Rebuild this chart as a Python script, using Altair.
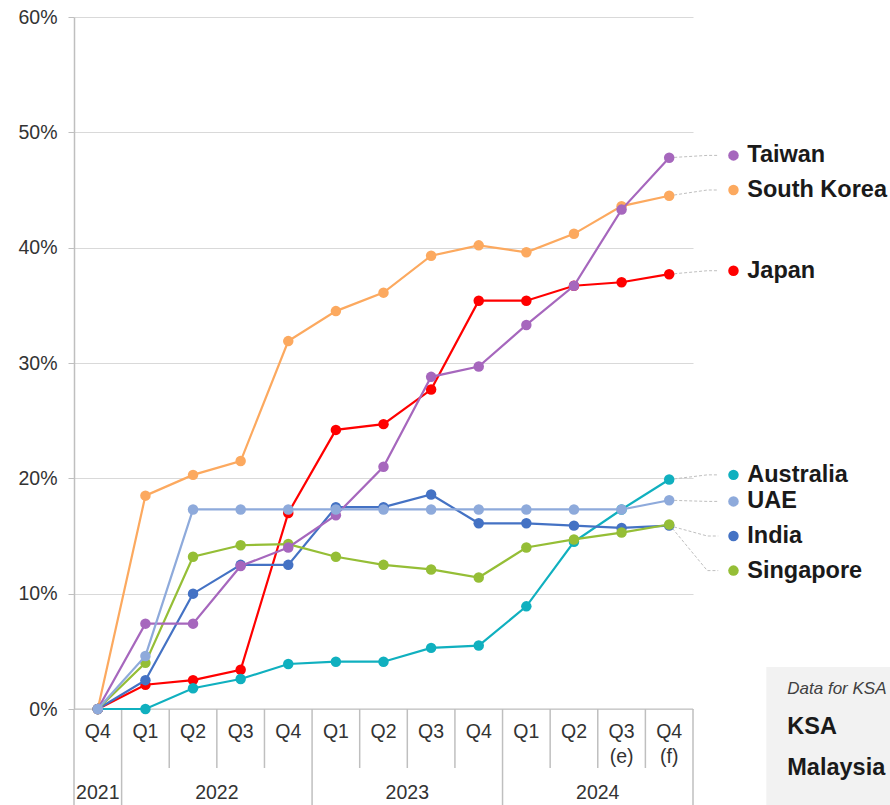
import altair as alt
import pandas as pd

# Quarterly series (percent)
quarter_idx = list(range(13))
quarters = ["Q4", "Q1", "Q2", "Q3", "Q4", "Q1", "Q2", "Q3", "Q4", "Q1", "Q2", "Q3", "Q4"]
quarter_notes = ["", "", "", "", "", "", "", "", "", "", "", "(e)", "(f)"]
years = ["2021", "2022", "2023", "2024"]
year_centers = [0, 2.5, 6.5, 10.5]

taiwan = [0, 7.4, 7.4, 12.4, 14.0, 16.8, 21.0, 28.8, 29.7, 33.3, 36.7, 43.3, 47.8]
south_korea = [0, 18.5, 20.3, 21.5, 31.9, 34.5, 36.1, 39.3, 40.2, 39.6, 41.2, 43.6, 44.5]
japan = [0, 2.1, 2.5, 3.4, 17.0, 24.2, 24.7, 27.7, 35.4, 35.4, 36.7, 37.0, 37.7]
australia = [0, 0, 1.8, 2.6, 3.9, 4.1, 4.1, 5.3, 5.5, 8.9, 14.5, 17.3, 19.9]
uae = [0, 4.6, 17.3, 17.3, 17.3, 17.3, 17.3, 17.3, 17.3, 17.3, 17.3, 17.3, 18.1]
india = [0, 2.5, 10.0, 12.5, 12.5, 17.5, 17.5, 18.6, 16.1, 16.1, 15.9, 15.7, 15.9]
singapore = [0, 4.0, 13.2, 14.2, 14.3, 13.2, 12.5, 12.1, 11.4, 14.0, 14.7, 15.3, 16.0]

# drawing order, bottom to top
series = {
    "South Korea": south_korea,
    "Japan": japan,
    "Australia": australia,
    "India": india,
    "Singapore": singapore,
    "Taiwan": taiwan,
    "UAE": uae,
}
colors = {
    "Taiwan": "#a667bd",
    "South Korea": "#fca95f",
    "Japan": "#ff0000",
    "Australia": "#10b0bf",
    "UAE": "#8eaadb",
    "India": "#4472c4",
    "Singapore": "#95be36",
}

# end labels (top to bottom) and their vertical positions in percent
label_names = ["Taiwan", "South Korea", "Japan", "Australia", "UAE", "India", "Singapore"]
label_pos = [48.0, 45.0, 38.0, 20.3, 18.0, 15.0, 12.0]

box_lines = ["Data for KSA", "KSA", "Malaysia"]

W, H = 619, 692
FONT = "Liberation Sans"
GRID = "#d9d9d9"
EDGE = "#bfbfbf"
INK = "#333333"

xs = alt.Scale(domain=[-0.5, 12.5], nice=False, zero=False)
ys = alt.Scale(domain=[0, 60], nice=False, zero=False)

layers = []

# horizontal axis line, carries the y axis with grid
axis_df = pd.DataFrame({"x0": [-0.5], "x1": [12.5], "v": [0]})
layers.append(
    alt.Chart(axis_df).mark_rule(color=EDGE, strokeWidth=1).encode(
        x=alt.X("x0:Q", scale=xs, axis=None),
        x2="x1:Q",
        y=alt.Y(
            "v:Q",
            scale=ys,
            title=None,
            axis=alt.Axis(
                values=[0, 10, 20, 30, 40, 50, 60],
                labelExpr="datum.value + '%'",
                grid=True,
                gridColor=GRID,
                gridWidth=1,
                domainColor=EDGE,
                domainWidth=1.5,
                tickColor=EDGE,
                tickSize=6,
                labelFont=FONT,
                labelFontSize=19.5,
                labelColor=INK,
                labelPadding=11,
            ),
        ),
    )
)

# category separators under the plot
short_b = [1.5, 2.5, 3.5, 5.5, 6.5, 7.5, 9.5, 10.5, 11.5]
full_b = [-0.5, 0.5, 4.5, 8.5, 12.5]
layers.append(
    alt.Chart(pd.DataFrame({"b": short_b})).mark_rule(color=EDGE, strokeWidth=1.5).encode(
        x=alt.X("b:Q", scale=xs, axis=None), y=alt.value(H), y2=alt.value(H + 59)
    )
)
layers.append(
    alt.Chart(pd.DataFrame({"b": full_b})).mark_rule(color=EDGE, strokeWidth=1.5).encode(
        x=alt.X("b:Q", scale=xs, axis=None), y=alt.value(H), y2=alt.value(H + 96)
    )
)

# quarter and year labels
qdf = pd.DataFrame({"i": quarter_idx, "q": quarters, "n": quarter_notes})
text_style = dict(font=FONT, fontSize=19.5, color=INK, baseline="middle", align="center")
layers.append(
    alt.Chart(qdf).mark_text(**text_style).encode(
        x=alt.X("i:Q", scale=xs, axis=None), y=alt.value(715), text="q:N"
    )
)
layers.append(
    alt.Chart(qdf).mark_text(**text_style).encode(
        x=alt.X("i:Q", scale=xs, axis=None), y=alt.value(740), text="n:N"
    )
)
ydf = pd.DataFrame({"c": year_centers, "y": years})
layers.append(
    alt.Chart(ydf).mark_text(**text_style).encode(
        x=alt.X("c:Q", scale=xs, axis=None), y=alt.value(776), text="y:N"
    )
)

# dashed leaders from last points to end labels
last = {name: vals[-1] for name, vals in series.items()}
lead_rows = []
for name, pos in zip(label_names, label_pos):
    lead_rows += [
        {"c": name, "o": 0, "x": 12, "y": last[name]},
        {"c": name, "o": 1, "x": 12.8, "y": pos},
        {"c": name, "o": 2, "x": 13.03, "y": pos},
    ]
layers.append(
    alt.Chart(pd.DataFrame(lead_rows)).mark_line(
        color=EDGE, strokeWidth=1, strokeDash=[3, 2]
    ).encode(
        x=alt.X("x:Q", scale=xs, axis=None),
        y=alt.Y("y:Q", scale=ys),
        detail="c:N",
        order="o:Q",
    )
)

# series lines with markers
for name, vals in series.items():
    df = pd.DataFrame({"i": quarter_idx, "v": vals})
    layers.append(
        alt.Chart(df).mark_line(
            color=colors[name],
            strokeWidth=2.2,
            point=alt.OverlayMarkDef(filled=True, size=110, color=colors[name], opacity=1),
        ).encode(
            x=alt.X("i:Q", scale=xs, axis=None),
            y=alt.Y("v:Q", scale=ys),
        )
    )

# end labels with colored dots
ldf = pd.DataFrame(
    {
        "c": label_names,
        "p": label_pos,
        "dx": [13.35] * len(label_names),
        "tx": [13.64] * len(label_names),
    }
)
layers.append(
    alt.Chart(ldf).mark_circle(size=110, opacity=1).encode(
        x=alt.X("dx:Q", scale=xs, axis=None),
        y=alt.Y("p:Q", scale=ys),
        color=alt.Color(
            "c:N",
            scale=alt.Scale(domain=label_names, range=[colors[n] for n in label_names]),
            legend=None,
        ),
    )
)
layers.append(
    alt.Chart(ldf).mark_text(
        font=FONT, fontSize=23.5, fontWeight="bold", color="#1a1a1a", align="left", baseline="middle"
    ).encode(
        x=alt.X("tx:Q", scale=xs, axis=None),
        y=alt.Y("p:Q", scale=ys),
        text="c:N",
    )
)

# note box at the lower right
bdf = pd.DataFrame({"x0": [14.04], "x1": [16.9], "y0": [3.64], "y1": [-8.6]})
layers.append(
    alt.Chart(bdf).mark_rect(color="#f2f2f2").encode(
        x=alt.X("x0:Q", scale=xs, axis=None),
        x2="x1:Q",
        y=alt.Y("y0:Q", scale=ys),
        y2="y1:Q",
    )
)
note_df = pd.DataFrame({"t": [box_lines[0]], "x": [14.48], "y": [1.73]})
layers.append(
    alt.Chart(note_df).mark_text(
        font=FONT, fontSize=17, fontStyle="italic", color="#404040", align="left", baseline="middle"
    ).encode(x=alt.X("x:Q", scale=xs, axis=None), y=alt.Y("y:Q", scale=ys), text="t:N")
)
box_df = pd.DataFrame({"t": box_lines[1:], "x": [14.48, 14.48], "y": [-1.56, -5.15]})
layers.append(
    alt.Chart(box_df).mark_text(
        font=FONT, fontSize=23.5, fontWeight="bold", color="#1a1a1a", align="left", baseline="middle"
    ).encode(x=alt.X("x:Q", scale=xs, axis=None), y=alt.Y("y:Q", scale=ys), text="t:N")
)

chart = (
    alt.layer(*layers)
    .properties(
        width=W,
        height=H,
        autosize=alt.AutoSizeParams(type="none"),
        padding={"left": 74, "top": 17, "right": 197, "bottom": 96},
        background="white",
    )
    .configure_view(stroke=None)
)

chart.save("out.html", embed_options={"renderer": "svg", "actions": False})
